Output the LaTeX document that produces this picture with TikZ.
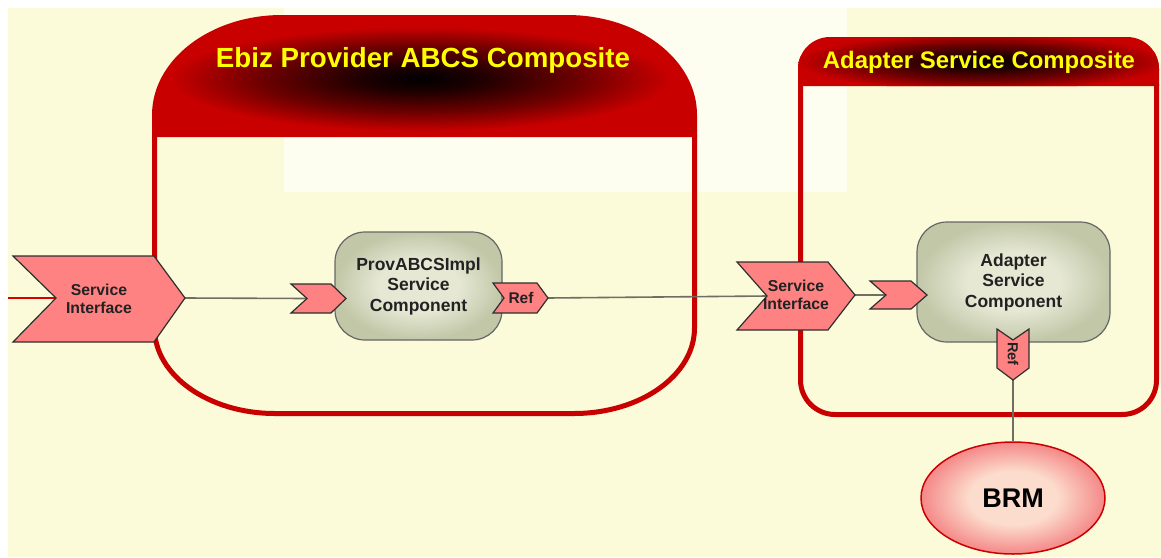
\documentclass[tikz,border=0pt]{standalone}
\usepackage{fontspec}
\setmainfont{Liberation Sans}
\usetikzlibrary{shapes.geometric}
\definecolor{bgy}{HTML}{FBFBDA}
\definecolor{bgl}{HTML}{FDFDF0}
\definecolor{hred}{HTML}{C80000}
\definecolor{chev}{HTML}{FF8282}
\definecolor{cedge}{HTML}{2E2E2E}
\definecolor{compin}{HTML}{E6E8D4}
\definecolor{compout}{HTML}{C2C7A8}
\definecolor{wire}{HTML}{6E6E62}
\definecolor{ttl}{HTML}{FFFF00}
\definecolor{brmin}{HTML}{FCDCCC}
\definecolor{brmout}{HTML}{F48888}
\definecolor{ctext}{HTML}{222222}
\pgfdeclareradialshading{hdrshade}{\pgfpoint{0bp}{0bp}}{color(0bp)=(black); color(6bp)=(black!85!hred); color(16bp)=(black!45!hred); color(25bp)=(hred); color(50bp)=(hred)}
\pgfdeclareradialshading{compshade}{\pgfpoint{0bp}{0bp}}{color(0bp)=(compin); color(12bp)=(compin); color(25bp)=(compout); color(50bp)=(compout)}
\pgfdeclareradialshading{brmshade}{\pgfpoint{0bp}{0bp}}{color(0bp)=(brmin); color(12bp)=(brmin); color(25bp)=(brmout); color(50bp)=(brmout)}
\tikzset{
  chevron/.style={fill=chev, draw=cedge, line width=1.2pt, line join=miter},
  chevtext/.style={font=\fontsize{15.8}{18}\selectfont\bfseries, text=ctext, align=center, inner sep=0pt},
  wire/.style={draw=wire, line width=1.6pt},
  comp/.style={shading=compshade, draw=black!60, line width=1.2pt, rounded corners=30pt,
    font=\fontsize{17.5}{20.5}\selectfont\bfseries, text=ctext, align=center, inner sep=0pt},
  border/.style={draw=hred, line width=5pt},
  title/.style={text=ttl, font=\bfseries, inner sep=0pt}
}
\begin{document}
\begin{tikzpicture}[x=1pt, y=-1pt]
\useasboundingbox (0,0) rectangle (1161,557);
% background
\fill[white] (0,0) rectangle (1161,557);
\fill[bgy] (8,8) rectangle (1161,557);
\fill[bgl] (284,8) rectangle (847,192);

% Ebiz composite header
\begin{scope}
\clip (152,137) -- (152,115) .. controls (152,59.8) and (210.2,15) .. (282,15) -- (567,15) .. controls (638.8,15) and (697,59.8) .. (697,115) -- (697,137) -- cycle;
\fill[hred] (140,10) rectangle (710,140);
\shade[shading=hdrshade] (420,79) ellipse (250pt and 52pt);
\end{scope}
\draw[border] (154.5,135) -- (154.5,328) .. controls (154.5,375.2) and (208.5,413.5) .. (275,413.5) -- (574,413.5) .. controls (640.5,413.5) and (694.5,375.2) .. (694.5,328) -- (694.5,135);
\node[title, font=\fontsize{27.7}{30}\selectfont\bfseries] (ebiztitle) at (423,60) {Ebiz Provider ABCS Composite};

% Adapter composite header
\begin{scope}
\clip (798,86) -- (798,69) .. controls (798,51.3) and (812.3,37) .. (830,37) -- (1127,37) .. controls (1144.7,37) and (1159,51.3) .. (1159,69) -- (1159,86) -- cycle;
\fill[hred] (790,30) rectangle (1165,90);
\shade[shading=hdrshade] (982,62) ellipse (185pt and 28pt);
\end{scope}
\draw[border] (800.5,84) -- (800.5,380) .. controls (800.5,399.3) and (816.2,414.5) .. (835,414.5) -- (1122,414.5) .. controls (1141.3,414.5) and (1156.5,399.3) .. (1156.5,380) -- (1156.5,84);
\node[title, font=\fontsize{23.9}{26}\selectfont\bfseries] (adtitle) at (979,62) {Adapter Service Composite};

% anchor coordinates of the ports
\coordinate (entry) at (8,298);
\coordinate (si1notch) at (56,298);
\coordinate (si1tip) at (185,298);
\coordinate (pin1notch) at (307,298.5);
\coordinate (ref1tip) at (548,298);
\coordinate (si2notch) at (767,296);
\coordinate (si2tip) at (855,295);
\coordinate (pin2notch) at (886,295);
\coordinate (ref2tip) at (1013,380);

% components
\node[comp, minimum width=167pt, minimum height=108pt] (pc) at (418.5,286) {ProvABCSImpl\\Service\\Component};
\node[comp, minimum width=193pt, minimum height=120pt] (ac) at (1013.5,282) {Adapter\\Service\\Component};
\node[ellipse, shading=brmshade, draw=red!80!black, line width=1.5pt, minimum width=184pt, minimum height=112pt,
  font=\fontsize{27}{29}\selectfont\bfseries, text=black] (brm) at (1013,498) {BRM};

% connectors
\draw[draw=red!85!black, line width=2pt] (entry) -- (si1notch);
\draw[wire] (si1tip) -- (pin1notch);
\draw[wire] (ref1tip) -- (si2notch);
\draw[wire] (si2tip) -- (pin2notch);
\draw[wire] (ref2tip) -- (brm.north);

% chevrons
\draw[chevron] (13,256) -- (154,256) -- (si1tip) -- (154,342) -- (13,342) -- (si1notch) -- cycle;
\node[chevtext] (si1) at (99,299) {Service\\Interface};
\draw[chevron] (291,284) -- (331,284) -- (346,298.5) -- (331,313) -- (291,313) -- (pin1notch) -- cycle;
\coordinate (pin1) at (318,298.5);
\draw[chevron] (493,283) -- (537,283) -- (ref1tip) -- (537,313) -- (493,313) -- (504,298) -- cycle;
\node[chevtext, font=\fontsize{15.5}{18}\selectfont\bfseries] (ref1) at (521,298) {Ref};
\draw[chevron] (737,262) -- (828,262) -- (si2tip) -- (828,330) -- (737,330) -- (si2notch) -- cycle;
\node[chevtext] (si2) at (796,295) {Service\\Interface};
\draw[chevron] (870,281) -- (911,281) -- (927,295) -- (911,309) -- (870,309) -- (pin2notch) -- cycle;
\coordinate (pin2) at (898,295);
\draw[chevron] (997,329) -- (1013,340) -- (1029,329) -- (1029,368) -- (ref2tip) -- (997,368) -- cycle;
\node[chevtext, font=\fontsize{14.5}{16}\selectfont\bfseries, rotate=-90] (ref2) at (1013,354) {Ref};
\end{tikzpicture}
\end{document}
